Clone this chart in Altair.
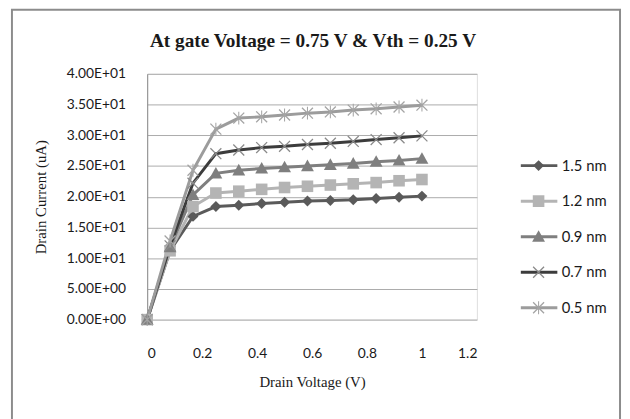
import altair as alt
import pandas as pd

# ---- data ----
chart_title = "At gate Voltage = 0.75 V & Vth = 0.25 V"
drain_v = [0, 1/12, 2/12, 3/12, 4/12, 5/12, 6/12, 7/12, 8/12, 9/12, 10/12, 11/12, 1.0]
series_names = ["1.5 nm", "1.2 nm", "0.9 nm", "0.7 nm", "0.5 nm"]
i_15 = [0, 11.2, 16.8, 18.4, 18.6, 18.9, 19.1, 19.3, 19.4, 19.5, 19.7, 19.9, 20.1]
i_12 = [0, 11.2, 18.4, 20.6, 20.9, 21.2, 21.5, 21.7, 21.9, 22.1, 22.3, 22.6, 22.8]
i_09 = [0, 11.8, 20.3, 23.8, 24.3, 24.6, 24.8, 25.0, 25.2, 25.4, 25.7, 25.9, 26.2]
i_07 = [0, 12.0, 22.2, 27.0, 27.6, 28.0, 28.2, 28.5, 28.7, 29.0, 29.3, 29.6, 29.9]
i_05 = [0, 12.8, 24.3, 31.0, 32.8, 33.0, 33.3, 33.6, 33.8, 34.1, 34.3, 34.6, 34.9]
x_ticks = [0, 0.2, 0.4, 0.6, 0.8, 1, 1.2]
y_ticks = [0, 5, 10, 15, 20, 25, 30, 35, 40]
y_tick_labels = ["0.00E+00", "5.00E+00", "1.00E+01", "1.50E+01", "2.00E+01",
                 "2.50E+01", "3.00E+01", "3.50E+01", "4.00E+01"]

marker_keys = ["marker " + n for n in series_names]  # separate key so the marker legend stays apart
rows = []
for name, key, vals in zip(series_names, marker_keys, [i_15, i_12, i_09, i_07, i_05]):
    for v, c in zip(drain_v, vals):
        rows.append({"series": name, "marker": key, "v": v, "i": c})
df = pd.DataFrame(rows)

# ---- styles ----
line_colors = ["#5a5a5a", "#b4b4b4", "#7f7f7f", "#3c3c3c", "#9c9c9c"]
marker_colors = ["#5a5a5a", "#b4b4b4", "#7f7f7f", "#8a8a8a", "#a4a4a4"]
x_path = ("M-0.78,-0.92L0.92,0.78L0.78,0.92L-0.92,-0.78Z"
          "M-0.92,0.78L0.78,-0.92L0.92,-0.78L-0.78,0.92Z")
marker_shapes = [
    "M0,-0.85L0.85,0L0,0.85L-0.85,0Z",
    "M-0.9,-0.9L0.9,-0.9L0.9,0.9L-0.9,0.9Z",
    "M0,-1L1,0.8L-1,0.8Z",
    x_path,
    x_path + "M-0.08,-1L0.08,-1L0.08,1L-0.08,1Z",
]
label_font = "Lato"
serif = "Liberation Serif"
ylabel_expr = "[" + ",".join("'%s'" % s for s in y_tick_labels) + "][round(datum.value/5)]"

W, H = 334, 249
MS = 170

x_enc = alt.X("v:Q", scale=alt.Scale(domain=[0, 1.2], nice=False),
              axis=alt.Axis(values=x_ticks, format="~g", grid=False, domain=False, ticks=False,
                            labelPadding=27, labelFont=label_font, labelFontSize=14,
                            labelColor="#1a1a1a", title="Drain Voltage (V)",
                            titleFont=serif, titleFontSize=15, titleFontWeight="normal",
                            titleColor="#1a1a1a", titlePadding=15))
y_enc = alt.Y("i:Q", scale=alt.Scale(domain=[0, 40], nice=False),
              axis=alt.Axis(values=y_ticks, labelExpr=ylabel_expr, labelOverlap=False,
                            grid=True, gridColor="#ababab",
                            gridWidth=1, domain=True, domainColor="#8a8a8a", ticks=False,
                            labelPadding=22, labelFont=label_font, labelFontSize=14,
                            labelColor="#1a1a1a", title="Drain Current (uA)",
                            titleFont=serif, titleFontSize=15, titleFontWeight="normal",
                            titleColor="#1a1a1a", titlePadding=18))

base = alt.Chart(df).encode(x=x_enc, y=y_enc)

lines = base.mark_line(strokeWidth=3).encode(
    color=alt.Color("series:N", sort=series_names,
                    scale=alt.Scale(domain=series_names, range=line_colors),
                    legend=alt.Legend(title=None, orient="none", legendX=377, legendY=75,
                                      symbolType="stroke", symbolSize=1369, symbolStrokeWidth=3,
                                      clipHeight=36, rowPadding=0, padding=0, labelOffset=3,
                                      labelFont=label_font, labelFontSize=15, labelColor="#1a1a1a")),
    detail="series:N",
)

leg_points = alt.Legend(title=None, orient="none", legendX=389, legendY=75,
                        symbolSize=MS, clipHeight=36, rowPadding=0, padding=0,
                        labelExpr="''", labelFont=label_font, labelFontSize=15,
                        symbolStrokeWidth=0)
points = base.mark_point(filled=True, size=MS, opacity=1, strokeWidth=0).encode(
    fill=alt.Fill("marker:N", sort=marker_keys,
                  scale=alt.Scale(domain=marker_keys, range=marker_colors),
                  legend=leg_points),
    shape=alt.Shape("marker:N", sort=marker_keys,
                    scale=alt.Scale(domain=marker_keys, range=marker_shapes),
                    legend=leg_points),
)

one = pd.DataFrame({"t": [chart_title]})
frame = alt.Chart(one).mark_rect(fill=None, stroke="#8c8c8c", strokeWidth=2).encode(
    x=alt.value(-137), x2=alt.value(479), y=alt.value(-65), y2=alt.value(360)
)

title_text = alt.Chart(one).mark_text(font=serif, fontSize=19.5, fontWeight="bold",
                                      color="#1a1a1a", align="center", baseline="alphabetic").encode(
    text="t:N", x=alt.value(W / 2 + 1), y=alt.value(-27)
)

chart = alt.layer(frame, title_text, lines, points).properties(
    width=W, height=H,
    autosize=alt.AutoSizeParams(type="none"),
    padding={"left": 141, "top": 64, "right": 147, "bottom": 98},
).configure_view(stroke=None).configure(background="white")

chart.save("out.html", embed_options={"renderer": "svg", "actions": False})
